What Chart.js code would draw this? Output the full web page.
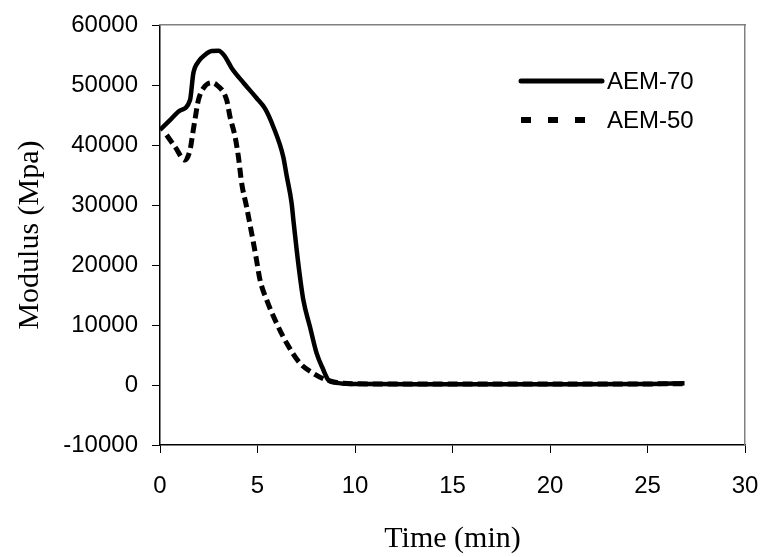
<!DOCTYPE html>
<html>
<head>
<meta charset="utf-8">
<script src="https://cdn.jsdelivr.net/npm/chart.js@4"></script>
<style>
  html, body { margin: 0; padding: 0; background: #fff; }
  #wrap { width: 764px; height: 557px; }
</style>
</head>
<body>
<div id="wrap"><canvas id="modChart" width="764" height="557"></canvas></div>
<script>
// AEM-70 (solid)
const time70 = [0, 0.5, 1.0, 1.54, 1.71, 1.97, 2.3, 2.65, 3.0, 3.3, 3.68, 4.3, 4.96, 5.38, 5.81, 6.32, 6.5, 6.75, 6.84, 7.09, 7.35, 7.69, 8.03, 8.38, 8.63, 9.0, 9.74, 11, 15, 20, 25, 26.9];
const mod70 = [42500, 44100, 45700, 47500, 51950, 53900, 55000, 55650, 55700, 54900, 52800, 50300, 47800, 46100, 43050, 38050, 34800, 30300, 27500, 20300, 14170, 9700, 5300, 2500, 830, 400, 170, 150, 120, 130, 180, 300];

// AEM-50 (dashed)
const time50 = [0.34, 0.77, 1.28, 1.54, 1.68, 1.79, 1.97, 2.22, 2.65, 2.91, 3.42, 3.59, 3.85, 4.02, 4.19, 4.44, 4.7, 4.92, 5.13, 5.47, 5.98, 6.5, 7.18, 7.86, 8.55, 9.4, 11, 15, 20, 26.8];
const mod50 = [41670, 39700, 37500, 39170, 41950, 44170, 47500, 49450, 50380, 50000, 47500, 44700, 41400, 38050, 33600, 29700, 25300, 21400, 17500, 14170, 10280, 6950, 3620, 1950, 830, 280, 180, 150, 150, 200];

const seriesNames = ['AEM-70', 'AEM-50'];
const xTitle = 'Time (min)';
const yTitle = 'Modulus (Mpa)';

const toPts = (xs, ys) => xs.map((x, i) => ({ x: x, y: ys[i] }));

const tickFont = { family: '"Liberation Sans", Arial, sans-serif', size: 24 };
const titleFont = { family: '"Liberation Serif", "Times New Roman", serif', size: 30 };

// legend drawn inside the plot, top right
const insideLegend = {
  id: 'insideLegend',
  afterDraw(chart) {
    const ctx = chart.ctx;
    const a = chart.chartArea;
    const items = chart.data.datasets;
    ctx.save();
    items.forEach((ds, i) => {
      const y = a.top + 56 + i * 39;
      ctx.beginPath();
      ctx.strokeStyle = '#000';
      ctx.lineWidth = i === 0 ? 5 : 6;
      ctx.lineCap = i === 0 ? 'round' : 'butt';
      ctx.setLineDash(i === 0 ? [] : [10, 17]);
      ctx.moveTo(a.left + 361, y);
      ctx.lineTo(a.left + 442, y);
      ctx.stroke();
      ctx.setLineDash([]);
      ctx.fillStyle = '#000';
      ctx.font = '24px "Liberation Sans", Arial, sans-serif';
      ctx.textBaseline = 'middle';
      ctx.textAlign = 'left';
      ctx.fillText(ds.label, a.left + 447, y + 1);
    });
    ctx.restore();
  }
};

const noPad = s => { s.paddingLeft = 0; s.paddingRight = 0; s.paddingTop = 0; s.paddingBottom = 0; };

new Chart(document.getElementById('modChart'), {
  type: 'line',
  data: {
    datasets: [{
      label: seriesNames[0],
      data: toPts(time70, mod70),
      borderColor: '#000',
      borderWidth: 4.5,
      pointRadius: 0,
      cubicInterpolationMode: 'monotone',
      fill: false
    }, {
      label: seriesNames[1],
      data: toPts(time50, mod50),
      borderColor: '#000',
      borderWidth: 5,
      borderDash: [10, 5],
      pointRadius: 0,
      cubicInterpolationMode: 'monotone',
      fill: false
    }]
  },
  options: {
    responsive: false,
    animation: false,
    layout: { padding: { top: 25, right: 19, left: 0, bottom: 0 } },
    plugins: { legend: { display: false }, tooltip: { enabled: false } },
    scales: {
      x: {
        type: 'linear', position: 'bottom', min: 0, max: 30,
        ticks: { stepSize: 5, color: '#000', font: tickFont, padding: 19, maxRotation: 0 },
        grid: { drawOnChartArea: false, drawTicks: true, tickLength: 8, color: '#000' },
        border: { color: '#000', width: 1.5 },
        title: { display: true, text: xTitle, color: '#000', font: titleFont, padding: { top: 0, bottom: 0 } },
        afterFit(s) { s.height = 112; noPad(s); }
      },
      y: {
        type: 'linear', position: 'left', min: -10000, max: 60000,
        ticks: { stepSize: 10000, color: '#000', font: tickFont, padding: 14, callback: v => String(v) },
        grid: { drawOnChartArea: false, drawTicks: true, tickLength: 8, color: '#000' },
        border: { color: '#000', width: 1.5 },
        title: { display: true, text: yTitle, color: '#000', font: titleFont, padding: { top: 12, bottom: 0 } },
        afterFit(s) { s.width = 160; noPad(s); }
      },
      xTop: {
        type: 'linear', position: 'top', min: 0, max: 30,
        ticks: { display: false },
        grid: { display: false },
        border: { color: '#808080', width: 1.5 },
        afterFit(s) { s.height = 0; noPad(s); }
      },
      yRight: {
        type: 'linear', position: 'right', min: -10000, max: 60000,
        ticks: { display: false },
        grid: { display: false },
        border: { color: '#808080', width: 1.5 },
        afterFit(s) { s.width = 0; noPad(s); }
      }
    }
  },
  plugins: [insideLegend]
});
</script>
</body>
</html>
